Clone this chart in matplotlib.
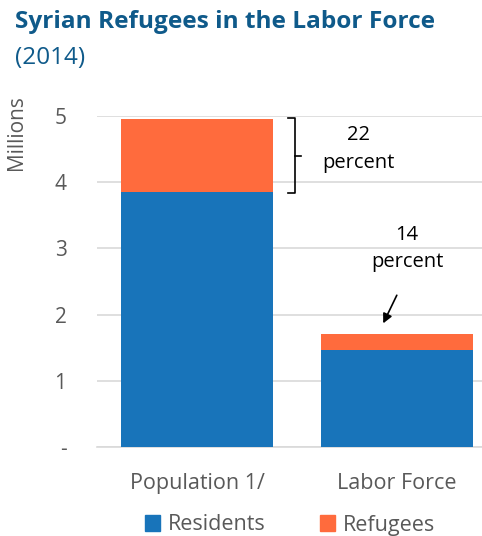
import numpy as np
import matplotlib
matplotlib.use("Agg")
import matplotlib.pyplot as plt
from matplotlib.patches import Patch

plt.rcParams['font.family'] = ['Open Sans', 'DejaVu Sans']

categories = ["Population 1/", "Labor Force"]
residents = [3.85, 1.47]
refugees = [1.10, 0.24]
yticks = [0, 1, 2, 3, 4, 5]
ytick_labels = ["-", "1", "2", "3", "4", "5"]

blue = "#1874BA"
orange = "#FF6B3D"
grey = "#595959"
title_col = "#0F5A8A"

fig = plt.figure(figsize=(4.82, 5.36), dpi=100)
ax = fig.add_axes([97/482, 1-447/536, 1-97/482, (447-116)/536])

x = np.arange(len(categories))
ax.bar(x, residents, width=0.76, color=blue, zorder=3)
ax.bar(x, refugees, width=0.76, bottom=residents, color=orange, zorder=3)

ax.set_xlim(-0.5, 1.425)
ax.set_ylim(0, 5)
ax.set_yticks(yticks)
ax.set_yticklabels(ytick_labels, color=grey, fontsize=15)
ax.set_xticks(x)
ax.set_xticklabels(categories, color=grey, fontsize=15.5)
ax.tick_params(length=0)
ax.tick_params(axis='y', pad=22)
ax.tick_params(axis='x', pad=19)
ax.grid(axis='y', color="#d9d9d9", linewidth=1.2, zorder=0)
for s in ["top", "right", "left"]:
    ax.spines[s].set_visible(False)
ax.spines["bottom"].set_color("#d9d9d9")
ax.spines["bottom"].set_linewidth(1.2)
ax.set_ylabel("Millions", color=grey, fontsize=15)
ax.yaxis.set_label_coords(-0.182, 0.95)

# bracket for population refugees share
top = residents[0] + refugees[0] + 0.02
bot = residents[0] - 0.02
mid = (top + bot) / 2
ax.plot([0.455, 0.49, 0.49, 0.455], [top, top, bot, bot], color="black", lw=1.2,
        clip_on=False, zorder=4)
ax.plot([0.49, 0.52], [mid, mid], color="black", lw=1.2, zorder=4)
ax.text(0.805, 4.5, "22\npercent", ha="center", va="center", fontsize=14.5,
        linespacing=1.5)

ax.text(1.05, 3.0, "14\npercent", ha="center", va="center", fontsize=14.5,
        linespacing=1.5)
ax.annotate("", xy=(0.925, 1.83), xytext=(1.005, 2.33),
            arrowprops=dict(arrowstyle="-|>", color="black", lw=1.2,
                            mutation_scale=14))

fig.text(15/482, 1-22/536, "Syrian Refugees in the Labor Force", fontsize=17.6,
         fontweight="bold", color=title_col, va="center", ha="left")
fig.text(15/482, 1-58/536, "(2014)", fontsize=17.5, color=title_col, va="center",
         ha="left")

handles = [Patch(color=blue), Patch(color=orange)]
fig.legend(handles, ["Residents", "Refugees"], loc="center",
           bbox_to_anchor=(290/482, 1-525/536), ncol=2, frameon=False,
           fontsize=15.5, labelcolor=grey, handlelength=0.7, handleheight=0.7,
           columnspacing=2.5, handletextpad=0.37)

fig.savefig("out.png", dpi=100)
